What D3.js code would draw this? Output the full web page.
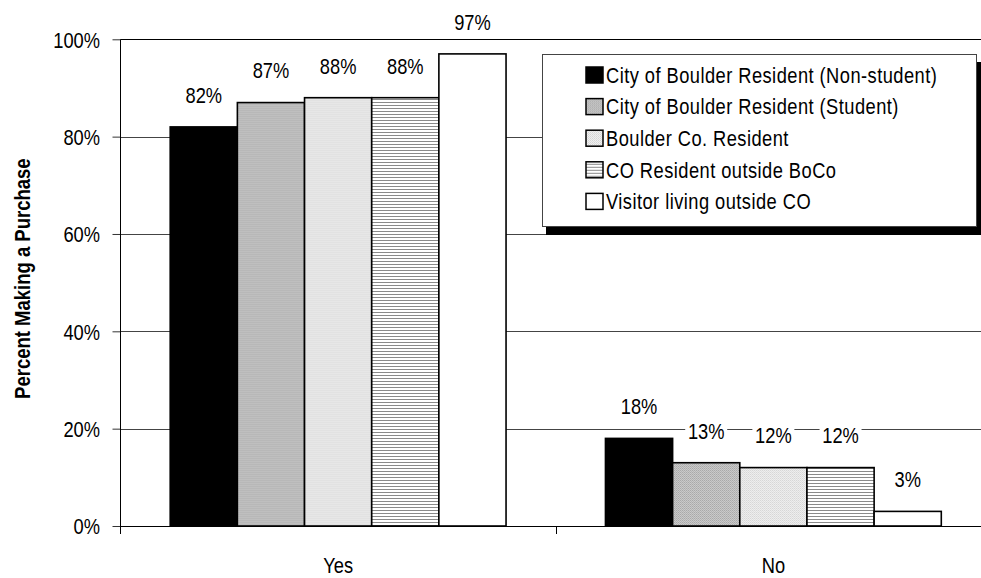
<!DOCTYPE html>
<html>
<head>
<meta charset="utf-8">
<script src="https://cdn.jsdelivr.net/npm/d3@7"></script>
<style>
  html, body { margin: 0; padding: 0; background: #fff; }
  svg { display: block; font-family: "Liberation Sans", Arial, sans-serif; }
</style>
</head>
<body>
<svg id="chart" width="981" height="578"></svg>
<script>
// Purchase response by visitor group
const categories = ["Yes", "No"];
const seriesNames = [
  "City of Boulder Resident (Non-student)",
  "City of Boulder Resident (Student)",
  "Boulder Co. Resident",
  "CO Resident outside BoCo",
  "Visitor living outside CO"
];
const nonStudent = [82, 18];
const student = [87, 13];
const boulderCounty = [88, 12];
const outsideBoCo = [88, 12];
const visitor = [97, 3];
const yTicks = [0, 20, 40, 60, 80, 100];
const yTitle = "Percent Making a Purchase";

const seriesValues = [nonStudent, student, boulderCounty, outsideBoCo, visitor];
const fills = ["#000", "url(#patStudent)", "url(#patCounty)", "url(#patLines)", "#fff"];

// text is drawn slightly tall and narrow
const FS = 18.3, STRETCH = 1.2;
const capHalf = 0.716 * FS * STRETCH / 2;

const svg = d3.select("#chart");

// fill patterns
const defs = svg.append("defs");
const p1 = defs.append("pattern").attr("id", "patStudent")
  .attr("patternUnits", "userSpaceOnUse").attr("width", 2).attr("height", 2);
p1.append("rect").attr("width", 2).attr("height", 2).attr("fill", "#d6d6d6");
p1.append("rect").attr("width", 1).attr("height", 1).attr("fill", "#9a9a9a");
p1.append("rect").attr("x", 1).attr("y", 1).attr("width", 1).attr("height", 1).attr("fill", "#a8a8a8");

const p2 = defs.append("pattern").attr("id", "patCounty")
  .attr("patternUnits", "userSpaceOnUse").attr("width", 2).attr("height", 2);
p2.append("rect").attr("width", 2).attr("height", 2).attr("fill", "#f6f6f6");
p2.append("rect").attr("width", 1).attr("height", 1).attr("fill", "#cdcdcd");
p2.append("rect").attr("x", 1).attr("y", 1).attr("width", 1).attr("height", 1).attr("fill", "#d8d8d8");

const p3 = defs.append("pattern").attr("id", "patLines")
  .attr("patternUnits", "userSpaceOnUse").attr("width", 4).attr("height", 3);
p3.append("rect").attr("width", 4).attr("height", 3).attr("fill", "#fff");
p3.append("rect").attr("width", 4).attr("height", 1).attr("fill", "#8a8a8a");

// plot area and scales
const plotLeft = 120.5, plotRight = 991, plotTop = 39.3, plotBottom = 526;
const x0 = d3.scaleBand().domain(categories).range([plotLeft, plotRight]).paddingInner(0).paddingOuter(0);
const x1 = d3.scaleBand().domain(d3.range(seriesNames.length))
  .range([0, x0.bandwidth()]).paddingInner(0).paddingOuter(0.74);
const y = d3.scaleLinear().domain([0, 100]).range([plotBottom, plotTop]);

// gridlines
svg.append("g").selectAll("line").data(yTicks.filter(d => d > 0)).join("line")
  .attr("x1", plotLeft).attr("x2", plotRight)
  .attr("y1", d => Math.round(y(d)) + 0.5).attr("y2", d => Math.round(y(d)) + 0.5)
  .attr("stroke", d => d === 100 ? "#000" : "#444").attr("stroke-width", 1);

// y axis
const yAxis = svg.append("g").attr("transform", `translate(${plotLeft},0)`)
  .call(d3.axisLeft(y).tickValues(yTicks).tickSize(8).tickPadding(12).tickFormat(d => d + "%"));
yAxis.select(".domain").remove();
yAxis.selectAll(".tick line").attr("stroke", "#333");
yAxis.selectAll("text")
  .attr("x", 0).attr("dy", null)
  .attr("transform", `translate(-20.5,${capHalf}) scale(1,${STRETCH})`)
  .attr("font-size", FS).attr("fill", "#000")
  .attr("font-family", "'Liberation Sans', Arial, sans-serif");
svg.append("line").attr("x1", plotLeft).attr("x2", plotLeft).attr("y1", plotTop).attr("y2", plotBottom + 8)
  .attr("stroke", "#000");

// bars
const groups = svg.append("g").selectAll("g").data(categories).join("g")
  .attr("transform", d => `translate(${x0(d)},0)`);
const cells = (c, ci) => seriesValues.map((vals, si) => ({ si, v: vals[ci] }));
groups.selectAll("rect.bar").data(cells).join("rect").attr("class", "bar")
  .attr("x", d => x1(d.si)).attr("width", x1.bandwidth())
  .attr("y", d => y(d.v)).attr("height", d => y(0) - y(d.v))
  .attr("fill", d => fills[d.si]).attr("stroke", "#000").attr("stroke-width", 1.6);

// value labels on a white backing that breaks the gridlines
const labels = groups.selectAll("g.val").data(cells).join("g").attr("class", "val")
  .attr("transform", d => `translate(${x1(d.si) + x1.bandwidth() / 2},${y(d.v) - 32})`);
labels.append("rect").attr("x", -21).attr("y", -10).attr("width", 42).attr("height", 20).attr("fill", "#fff");
labels.append("text")
  .attr("transform", `translate(0,${capHalf}) scale(1,${STRETCH})`)
  .attr("text-anchor", "middle").attr("font-size", FS).attr("fill", "#000")
  .text(d => d.v + "%");

// x axis baseline and category ticks
svg.append("line").attr("x1", plotLeft).attr("x2", plotRight).attr("y1", plotBottom + 0.5).attr("y2", plotBottom + 0.5)
  .attr("stroke", "#000");
const xAxis = svg.append("g").attr("transform", `translate(0,${plotBottom})`)
  .call(d3.axisBottom(x0).tickSize(0));
xAxis.select(".domain").remove();
xAxis.selectAll("text")
  .attr("y", 0).attr("dy", null)
  .attr("transform", `translate(0,${39 + capHalf}) scale(1,${STRETCH})`)
  .attr("font-size", FS).attr("fill", "#000")
  .attr("font-family", "'Liberation Sans', Arial, sans-serif");
svg.append("g").selectAll("line").data(categories.slice(1)).join("line")
  .attr("x1", d => Math.round(x0(d)) + 0.5).attr("x2", d => Math.round(x0(d)) + 0.5)
  .attr("y1", plotBottom).attr("y2", plotBottom + 8).attr("stroke", "#000");

// y axis title
svg.append("text")
  .attr("transform", `translate(30,${(plotTop + plotBottom) / 2 - 4}) rotate(-90) scale(1,${STRETCH})`)
  .attr("text-anchor", "middle").attr("font-size", 18.5).attr("font-weight", "bold")
  .text(yTitle);

// legend with drop shadow
const lg = svg.append("g");
lg.append("rect").attr("x", 546).attr("y", 62).attr("width", 435).attr("height", 173).attr("fill", "#000");
lg.append("rect").attr("x", 542.5).attr("y", 54.5).attr("width", 434).attr("height", 172)
  .attr("fill", "#fff").attr("stroke", "#444").attr("stroke-width", 1);
const items = lg.selectAll("g.item").data(seriesNames).join("g").attr("class", "item")
  .attr("transform", (d, i) => `translate(0,${75 + i * 31.6})`);
items.append("rect").attr("x", 586).attr("y", -8).attr("width", 17).attr("height", 16)
  .attr("fill", (d, i) => fills[i]).attr("stroke", "#000").attr("stroke-width", 1.5);
items.append("text")
  .attr("transform", `translate(606,${capHalf}) scale(1,${STRETCH})`)
  .attr("font-size", FS).attr("letter-spacing", 0.45).attr("fill", "#000")
  .text(d => d);
</script>
</body>
</html>
